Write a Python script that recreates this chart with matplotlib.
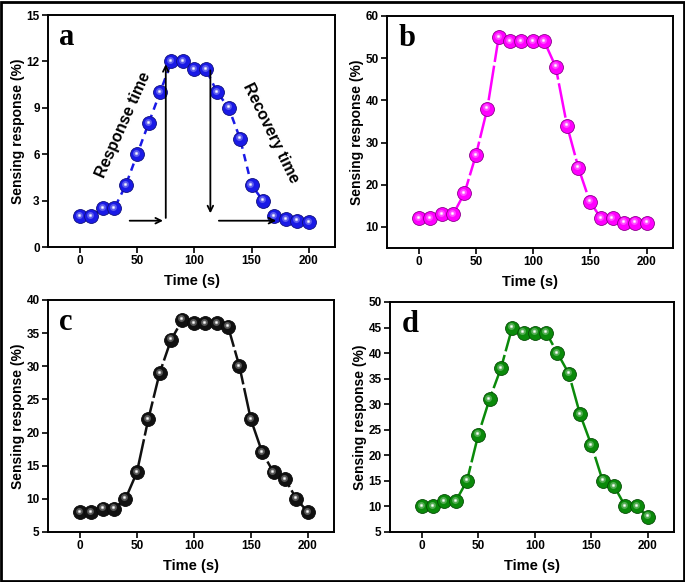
import matplotlib.pyplot as plt
import matplotlib.transforms as mtransforms
from matplotlib.patches import Rectangle
from matplotlib.colors import to_rgb

plt.rcParams['font.family'] = 'Liberation Sans'
plt.rcParams['font.weight'] = 'bold'

time = [0, 10, 20, 30, 40, 50, 60, 70, 80, 90, 100, 110, 120, 130, 140, 150, 160, 170, 180, 190, 200]
resp_a = [2, 2, 2.5, 2.5, 4, 6, 8, 10, 12, 12, 11.5, 11.5, 10, 9, 7, 4, 3, 2, 1.8, 1.7, 1.6]
resp_b = [12, 12, 13, 13, 18, 27, 38, 55, 54, 54, 54, 54, 48, 34, 24, 16, 12, 12, 11, 11, 11]
resp_c = [8, 8, 8.5, 8.5, 10, 14, 22, 29, 34, 37, 36.5, 36.5, 36.5, 36, 30, 22, 17, 14, 13, 10, 8]
resp_d = [10, 10, 11, 11, 15, 24, 31, 37, 45, 44, 44, 44, 40, 36, 28, 22, 15, 14, 10, 10, 8]

W, H = 685, 582
fig = plt.figure(figsize=(W / 100, H / 100), dpi=100)

# outer frame
fig.patches.append(Rectangle((0.002, 0.002), 0.996, 0.995, transform=fig.transFigure,
                             fill=False, edgecolor='black', linewidth=2))


def make_ax(left, top, right, bottom):
    return fig.add_axes([left / W, 1 - bottom / H, (right - left) / W, (bottom - top) / H])


def sphere_plot(ax, x, y, color, dashes):
    ax.plot(x, y, color=color, linewidth=1.8, dashes=dashes, zorder=2)
    r, g, b = to_rgb(color)
    dark = (r * 0.55, g * 0.55, b * 0.55)
    mid = (r + (1 - r) * 0.35, g + (1 - g) * 0.35, b + (1 - b) * 0.35)
    light = (r + (1 - r) * 0.7, g + (1 - g) * 0.7, b + (1 - b) * 0.7)
    ax.plot(x, y, 'o', ms=10, mfc=color, mec=dark, mew=0.6, zorder=3)
    off = mtransforms.offset_copy(ax.transData, fig=fig, x=-0.8, y=1.0, units='points')
    ax.plot(x, y, 'o', ms=5, mfc=mid, mec='none', zorder=4, transform=off, alpha=0.8)
    ax.plot(x, y, 'o', ms=2.5, mfc=light, mec='none', zorder=5, transform=off)
    ax.plot(x, y, 'o', ms=1.2, mfc='white', mec='none', zorder=6, transform=off)


def style(ax, ylim, yticks, letter):
    ax.set_xlim(-28, 223)
    ax.set_ylim(*ylim)
    ax.set_xticks([0, 50, 100, 150, 200])
    ax.set_yticks(yticks)
    ax.tick_params(direction='out', length=4, width=1.2, labelsize=8.5, pad=2,
                   top=False, right=False)
    for s in ax.spines.values():
        s.set_linewidth(1.4)
    ax.set_xlabel('Time (s)', fontsize=10.5, fontweight='bold', labelpad=5)
    ax.set_ylabel('Sensing response (%)', fontsize=10, fontweight='bold', labelpad=1)
    ax.text(0.04, 0.965, letter, transform=ax.transAxes, fontsize=22, fontweight='bold',
            family='Liberation Serif', va='top', ha='left')


ax_a = make_ax(48, 15, 335, 247)
ax_b = make_ax(387, 16, 673, 248)
ax_c = make_ax(48, 300, 334, 532)
ax_d = make_ax(390, 302, 674, 532)

sphere_plot(ax_a, time, resp_a, '#1a1ae6', (3, 2.2))
style(ax_a, (0, 15), [0, 3, 6, 9, 12, 15], 'a')

sphere_plot(ax_b, time, resp_b, '#ff00ff', (14, 1.5))
style(ax_b, (5, 60), [10, 20, 30, 40, 50, 60], 'b')

sphere_plot(ax_c, time, resp_c, '#111111', (14, 1.5))
style(ax_c, (5, 40), [5, 10, 15, 20, 25, 30, 35, 40], 'c')

sphere_plot(ax_d, time, resp_d, '#0a8a0a', (14, 1.5))
style(ax_d, (5, 50), [5, 10, 15, 20, 25, 30, 35, 40, 45, 50], 'd')

# annotations on panel a
arrow = dict(arrowstyle='->', color='black', lw=1.3)
ax_a.annotate('', xy=(75, 1.7), xytext=(41, 1.7), arrowprops=arrow)
ax_a.annotate('', xy=(75, 12.0), xytext=(75, 1.7), arrowprops=arrow)
ax_a.annotate('', xy=(114, 2.0), xytext=(114, 11.6), arrowprops=arrow)
ax_a.annotate('', xy=(174, 1.7), xytext=(119, 1.7), arrowprops=arrow)
ax_a.text(38, 7.9, 'Response time', rotation=66, fontsize=11.5, fontweight='bold',
          ha='center', va='center')
ax_a.text(167, 7.4, 'Recovery time', rotation=-64, fontsize=11.5, fontweight='bold',
          ha='center', va='center')

fig.savefig('out.png', dpi=100)
